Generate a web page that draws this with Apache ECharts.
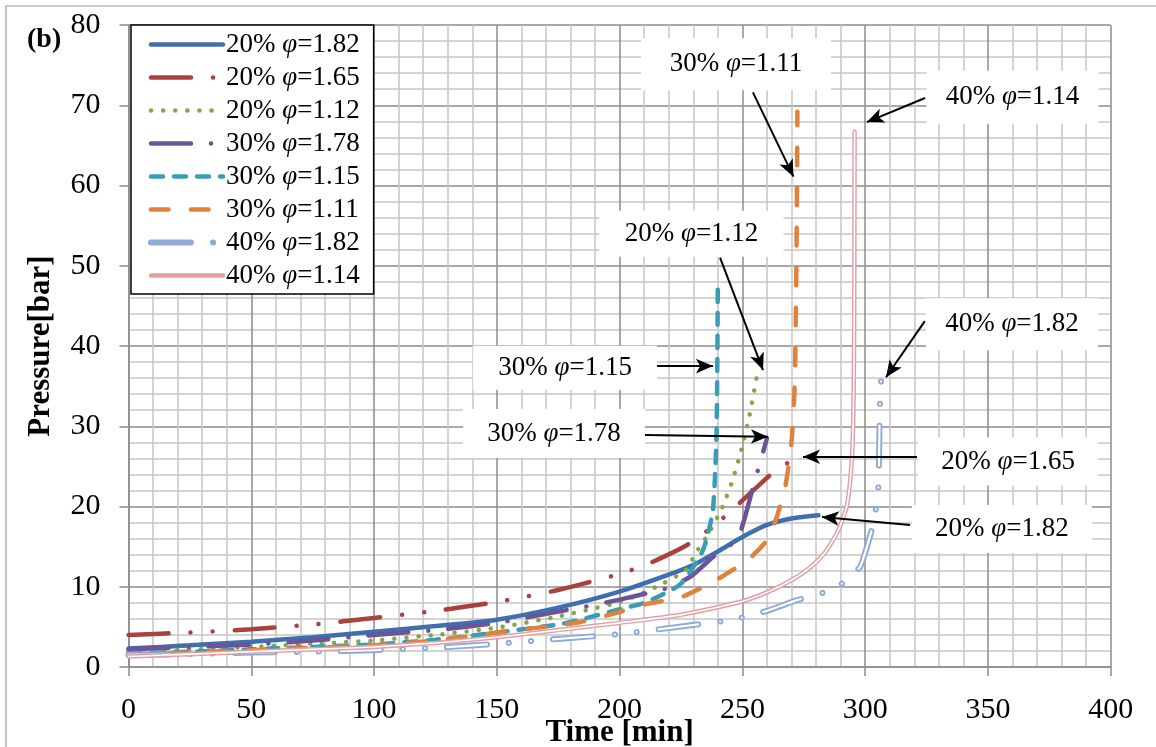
<!DOCTYPE html>
<html>
<head>
<meta charset="utf-8">
<script src="https://cdn.jsdelivr.net/npm/echarts@6/dist/echarts.min.js"></script>
<style>
  html, body { margin: 0; padding: 0; background: #fff; }
  #chart { width: 1156px; height: 747px; }
</style>
</head>
<body>
<div id="chart"></div>
<script>
// axis ticks
var xTicks = [0, 400, 50];
var yTicks = [0, 80, 10];

// series names
var names = ['20% φ=1.82', '20% φ=1.65', '20% φ=1.12', '30% φ=1.78',
             '30% φ=1.15', '30% φ=1.11', '40% φ=1.82', '40% φ=1.14'];

// time [min] / pressure [bar]
var t20_182 = [0, 25, 50, 75, 100, 125, 150, 175, 200, 220, 230, 240, 250, 260, 270, 281];
var p20_182 = [2.3, 2.7, 3.15, 3.7, 4.4, 5.1, 5.9, 7.4, 9.4, 11.5, 12.7, 14.4, 16.2, 17.7, 18.5, 18.9];

var t20_165 = [0, 25, 50, 75, 100, 125, 150, 175, 200, 212, 228, 240, 248, 258, 265, 274];
var p20_165 = [4.0, 4.3, 4.7, 5.3, 6.1, 7.0, 8.1, 9.6, 11.6, 12.9, 15.3, 18.0, 20.2, 23.0, 24.9, 26.1];

var t20_112 = [0, 25, 50, 75, 100, 125, 150, 175, 200, 215, 227, 231, 236, 242, 246, 250, 253, 256];
var p20_112 = [1.9, 2.2, 2.5, 2.9, 3.3, 4.0, 4.9, 6.3, 8.1, 10.0, 12.1, 14.2, 16.5, 20.0, 23.3, 27.5, 31.5, 36.4];

var t30_178 = [0, 25, 50, 75, 100, 125, 150, 175, 184, 200, 219, 229, 238, 248, 254, 260];
var p30_178 = [2.2, 2.5, 2.8, 3.3, 4.0, 4.6, 5.5, 6.9, 7.4, 8.4, 9.8, 11.3, 13.7, 16.0, 22.0, 28.5];

var t30_115 = [0, 25, 50, 75, 100, 125, 150, 175, 184, 200, 211, 225, 234, 238, 239.5, 240];
var p30_115 = [1.7, 1.9, 2.2, 2.5, 2.8, 3.4, 4.3, 5.3, 5.9, 7.2, 8.1, 10.4, 14.6, 19.6, 29.5, 47.8];

var t30_111 = [0, 25, 50, 75, 100, 125, 150, 175, 184, 197, 210, 225, 238, 252, 260, 264, 267.5, 270, 271.3, 272, 272.4];
var p30_111 = [1.6, 1.8, 2.1, 2.4, 2.7, 3.3, 4.3, 5.2, 5.6, 6.6, 7.8, 8.7, 10.6, 13.3, 15.8, 18.7, 22.5, 28, 35, 50, 69.2];

var t40_182 = [0, 25, 50, 75, 100, 125, 150, 175, 200, 229, 246, 260, 272, 288, 295, 298, 302.7, 304.4, 305.4, 305.7, 306, 306.5];
var p40_182 = [1.5, 1.6, 1.8, 1.9, 2.1, 2.4, 2.9, 3.5, 4.1, 5.2, 5.9, 7.0, 8.3, 9.8, 11.7, 12.5, 17.1, 19.8, 22.5, 27, 32.7, 35.9];

var t40_114 = [0, 25, 50, 75, 100, 125, 150, 175, 200, 225, 249, 260, 271, 278, 284, 289, 292.5, 294.5, 295.2, 295.5, 295.6, 295.7];
var p40_114 = [1.3, 1.6, 1.9, 2.2, 2.5, 3.0, 3.7, 4.6, 5.5, 6.5, 8.1, 9.3, 11, 12.5, 14.4, 17, 20, 25.4, 31.6, 40.3, 50, 66.7];

var times = [t20_182, t20_165, t20_112, t30_178, t30_115, t30_111, t40_182, t40_114];
var pressures = [p20_182, p20_165, p20_112, p30_178, p30_115, p30_111, p40_182, p40_114];

// annotation boxes and arrows, in axis units
var notes = [
  { text: '30% φ=1.11', at: [247.4, 75.1], size: [190, 52], from: [254.3, 71.6], to: [270.8, 61.1] },
  { text: '40% φ=1.14', at: [360, 71.0], size: [172, 53], from: [324.4, 70.9], to: [300.7, 67.9] },
  { text: '20% φ=1.12', at: [229.3, 54.0], size: [184, 46], from: [240.9, 51.0], to: [258.4, 37.0] },
  { text: '30% φ=1.15', at: [177.8, 37.3], size: [184, 44], from: [215.2, 37.5], to: [238, 37.5] },
  { text: '30% φ=1.78', at: [173.3, 29.1], size: [182, 49], from: [210.3, 28.9], to: [260.4, 28.7] },
  { text: '40% φ=1.82', at: [359.8, 42.7], size: [172, 52], from: [324.3, 43.1], to: [308.5, 36.1] },
  { text: '20% φ=1.65', at: [358.2, 25.6], size: [180, 48], from: [321.1, 26.2], to: [274.7, 26.2] },
  { text: '20% φ=1.82', at: [355.7, 17.2], size: [180, 48], from: [318.3, 17.7], to: [282.4, 18.7] }
];

var FONT = 'Liberation Serif';
var colors = ['#3F70AD', '#A9423F', '#83A84A', '#6C5496', '#3A9DB5', '#E0823A', '#8FAAD8', '#E3A0A2'];
var dashes = [
  'solid',
  [40, 22, 0.1, 22, 0.1, 22],
  [0.1, 12],
  [40, 20, 0.1, 20],
  [12, 11],
  [17.5, 22.5],
  [40, 22, 0.1, 22, 0.1, 22],
  'solid'
];
var widths = [4.5, 4.5, 4.5, 4.5, 4.5, 4.5, 6, 4.5];
// the 40% curves are drawn as double lines: a white core on top
var cores = [0, 0, 0, 0, 0, 0, 2.2, 1.6];

function phi(s) {
  return s.replace('φ', '{i|φ}');
}

var rich = { i: { fontStyle: 'italic', fontFamily: FONT, fontSize: 27, color: '#000' } };

var series = [];
for (var k = 0; k < names.length; k++) {
  var pts = times[k].map(function (v, i) { return [v, pressures[k][i]]; });
  series.push({
    name: names[k],
    type: 'line',
    data: pts,
    symbol: 'none',
    smooth: 0.2,
    color: colors[k],
    lineStyle: { color: colors[k], width: widths[k], type: dashes[k], cap: 'round' },
    z: 2 + k * 0.1
  });
  if (cores[k]) {
    series.push({
      name: names[k] + ' core',
      type: 'line',
      data: pts,
      symbol: 'none',
      smooth: 0.2,
      lineStyle: { color: '#ffffff', width: cores[k], type: dashes[k], cap: 'round' },
      z: 2 + k * 0.1 + 0.05,
      silent: true
    });
  }
}

series.push({
  name: 'notes',
  type: 'line',
  data: [],
  z: 6,
  markLine: {
    silent: true,
    animation: false,
    symbol: ['none', 'arrow'],
    symbolSize: [11, 17],
    lineStyle: { color: '#000', width: 2, type: 'solid' },
    label: { show: false },
    data: notes.map(function (n) {
      return [{ coord: n.from }, { coord: n.to }];
    })
  },
  markPoint: {
    silent: true,
    animation: false,
    data: notes.map(function (n) {
      return {
        coord: n.at,
        symbol: 'rect',
        symbolSize: n.size,
        itemStyle: { color: '#ffffff' },
        label: {
          show: true,
          position: 'inside',
          formatter: phi(n.text),
          color: '#000',
          fontFamily: FONT,
          fontSize: 27,
          rich: rich
        }
      };
    })
  }
});

var chart = echarts.init(document.getElementById('chart'), null, { renderer: 'canvas' });

var axisCommon = {
  type: 'value',
  nameMoveOverlap: false,
  axisLine: { show: true, lineStyle: { color: '#8c8c8c', width: 1.5 } },
  axisTick: { show: true, length: 9, lineStyle: { color: '#8c8c8c', width: 1.5 } },
  splitLine: { show: true, lineStyle: { color: '#8c8c8c', width: 1.5 } },
  minorTick: { show: false, splitNumber: 5 },
  minorSplitLine: { show: true, lineStyle: { color: '#c6c6c6', width: 1.5 } },
  axisLabel: { color: '#000', fontFamily: FONT, fontSize: 30 },
  nameTextStyle: { color: '#000', fontFamily: FONT, fontSize: 31, fontWeight: 'bold' }
};

chart.setOption({
  backgroundColor: '#ffffff',
  animation: false,
  grid: { left: 128.5, right: 45.3, top: 25, bottom: 80, outerBoundsMode: 'none' },
  xAxis: Object.assign({}, axisCommon, {
    min: xTicks[0], max: xTicks[1], interval: xTicks[2],
    name: 'Time [min]',
    nameLocation: 'middle',
    nameGap: 50,
    axisLabel: Object.assign({}, axisCommon.axisLabel, { margin: 28 })
  }),
  yAxis: Object.assign({}, axisCommon, {
    min: yTicks[0], max: yTicks[1], interval: yTicks[2],
    name: 'Pressure[bar]',
    nameLocation: 'middle',
    nameGap: 72,
    axisLabel: Object.assign({}, axisCommon.axisLabel, { margin: 28 })
  }),
  legend: {
    data: names,
    orient: 'vertical',
    left: 131,
    top: 25,
    padding: [6, 14, 5, 17],
    itemWidth: 72,
    itemHeight: 10,
    itemGap: 6,
    backgroundColor: '#ffffff',
    borderColor: '#000',
    borderWidth: 1.5,
    borderRadius: 0,
    selectedMode: false,
    itemStyle: { opacity: 0 },
    lineStyle: { width: 'inherit' },
    textStyle: { color: '#000', fontFamily: FONT, fontSize: 27, lineHeight: 27, padding: [0, 0, 0, -2], rich: rich },
    formatter: function (name) { return phi(name); }
  },
  graphic: [
    {
      type: 'rect',
      silent: true,
      shape: { x: 6, y: 6, width: 1200, height: 800 },
      style: { fill: 'none', stroke: '#999', lineWidth: 1.2 }
    },
    {
      type: 'text',
      left: 27,
      top: 26,
      style: { text: '(b)', fontFamily: FONT, fontSize: 28, fontWeight: 'bold', fill: '#000' }
    }
  ],
  series: series
});
</script>
</body>
</html>
